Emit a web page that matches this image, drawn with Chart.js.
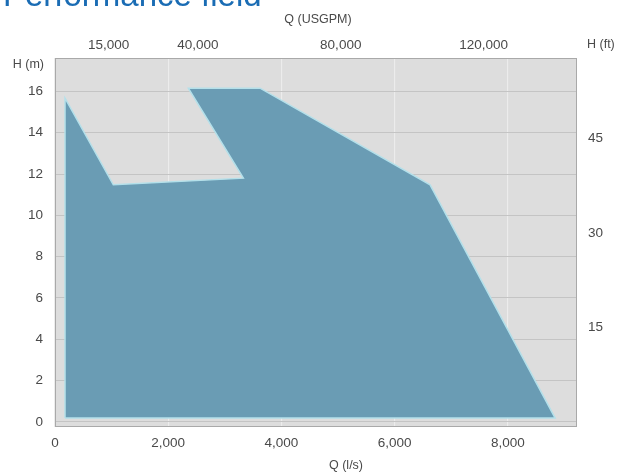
<!DOCTYPE html>
<html>
<head>
<meta charset="utf-8">
<script src="https://cdn.jsdelivr.net/npm/chart.js@4/dist/chart.umd.min.js"></script>
<style>
  html, body { margin: 0; padding: 0; background: #ffffff; }
  #wrap { width: 622px; height: 472px; }
</style>
</head>
<body>
<div id="wrap"><canvas id="c" width="622" height="472"></canvas></div>
<script>
// ---- data ----
const chartTitle = "Performance field";
// performance-field outline, flow in l/s and head in m
const flowLps = [177, 177, 1030, 3327, 2355, 3622, 6625, 8834, 177];
const headM   = [0.18, 15.68, 11.48, 11.80, 16.16, 16.16, 11.48, 0.18, 0.18];
const flowTicksLps = [0, 2000, 4000, 6000, 8000];
const flowTicksUsgpm = [15000, 40000, 80000, 120000];
const headTicksM = [0, 2, 4, 6, 8, 10, 12, 14, 16];
const headTicksFt = [15, 30, 45];
const LPS_TO_USGPM = 15.8503;
const M_TO_FT = 3.28084;
const xMin = 0, xMax = 9220;
const yMin = -0.25, yMax = 17.62;

const points = flowLps.map((q, i) => ({ x: q, y: headM[i] }));
const fmt = v => Number(v).toLocaleString('en-US');
const FONT = "'Liberation Sans', Arial, Helvetica, sans-serif";

const decor = {
  id: 'decor',
  beforeDraw(chart) {
    const { ctx, chartArea: a } = chart;
    ctx.save();
    ctx.fillStyle = '#dddddd';
    ctx.fillRect(a.left, a.top, a.right - a.left, a.bottom - a.top);
    ctx.restore();
  },
  afterDraw(chart) {
    const { ctx, chartArea: a } = chart;
    ctx.save();
    ctx.strokeStyle = '#a9a9a9';
    ctx.lineWidth = 1;
    ctx.strokeRect(a.left + 0.5, a.top + 0.5, a.right - a.left - 1, a.bottom - a.top - 1);
    // title (partly cut off at the top, as in the reference)
    ctx.fillStyle = '#1a6cb4';
    ctx.font = "33px " + FONT;
    ctx.textAlign = 'left';
    ctx.textBaseline = 'alphabetic';
    ctx.fillText(chartTitle, 3, 6);
    // axis names
    ctx.fillStyle = '#4a4a4a';
    ctx.font = "12.5px " + FONT;
    ctx.textBaseline = 'middle';
    ctx.textAlign = 'center';
    ctx.fillText('Q (USGPM)', 318, 20);
    ctx.fillText('Q (l/s)', 346, 466);
    ctx.textAlign = 'right';
    ctx.fillText('H (m)', 44, 65);
    ctx.textAlign = 'left';
    ctx.fillText('H (ft)', 587, 45);
    ctx.restore();
  }
};

new Chart(document.getElementById('c'), {
  type: 'line',
  data: {
    datasets: [{
      label: 'Performance field',
      data: points,
      parsing: false,
      showLine: true,
      fill: 'shape',
      backgroundColor: '#6a9cb4',
      borderColor: '#b4e0ea',
      borderWidth: 1.5,
      pointRadius: 0,
      tension: 0,
      xAxisID: 'x',
      yAxisID: 'y'
    }]
  },
  options: {
    responsive: false,
    animation: false,
    devicePixelRatio: 1,
    layout: { padding: 0 },
    plugins: { legend: { display: false }, tooltip: { enabled: false }, title: { display: false } },
    scales: {
      x: {
        type: 'linear', position: 'bottom', min: xMin, max: xMax,
        afterBuildTicks: s => { s.ticks = flowTicksLps.map(v => ({ value: v })); },
        afterFit: s => { s.height = 45; },
        grid: { color: '#ececec', lineWidth: 1.2, drawTicks: false },
        border: { display: false },
        ticks: { padding: 8, color: '#4a4a4a', font: { family: FONT, size: 13.5 }, callback: v => fmt(v), maxRotation: 0, autoSkip: false }
      },
      x2: {
        type: 'linear', position: 'top', min: xMin * LPS_TO_USGPM, max: xMax * LPS_TO_USGPM,
        afterBuildTicks: s => { s.ticks = flowTicksUsgpm.map(v => ({ value: v })); },
        afterFit: s => { s.height = 58; },
        grid: { display: false, drawTicks: false },
        border: { display: false },
        ticks: { padding: 5, color: '#4a4a4a', font: { family: FONT, size: 13.5 }, callback: v => fmt(v), maxRotation: 0, autoSkip: false }
      },
      y: {
        type: 'linear', position: 'left', min: yMin, max: yMax,
        afterBuildTicks: s => { s.ticks = headTicksM.map(v => ({ value: v })); },
        afterFit: s => { s.width = 55; },
        grid: { color: '#c4c4c4', lineWidth: 1, drawTicks: false },
        border: { display: false },
        ticks: { padding: 12, color: '#4a4a4a', font: { family: FONT, size: 13.5 }, autoSkip: false }
      },
      y2: {
        type: 'linear', position: 'right', min: yMin * M_TO_FT, max: yMax * M_TO_FT,
        afterBuildTicks: s => { s.ticks = headTicksFt.map(v => ({ value: v })); },
        afterFit: s => { s.width = 45; },
        grid: { display: false, drawTicks: false },
        border: { display: false },
        ticks: { padding: 11, color: '#4a4a4a', font: { family: FONT, size: 13.5 }, autoSkip: false }
      }
    }
  },
  plugins: [decor]
});
</script>
</body>
</html>
